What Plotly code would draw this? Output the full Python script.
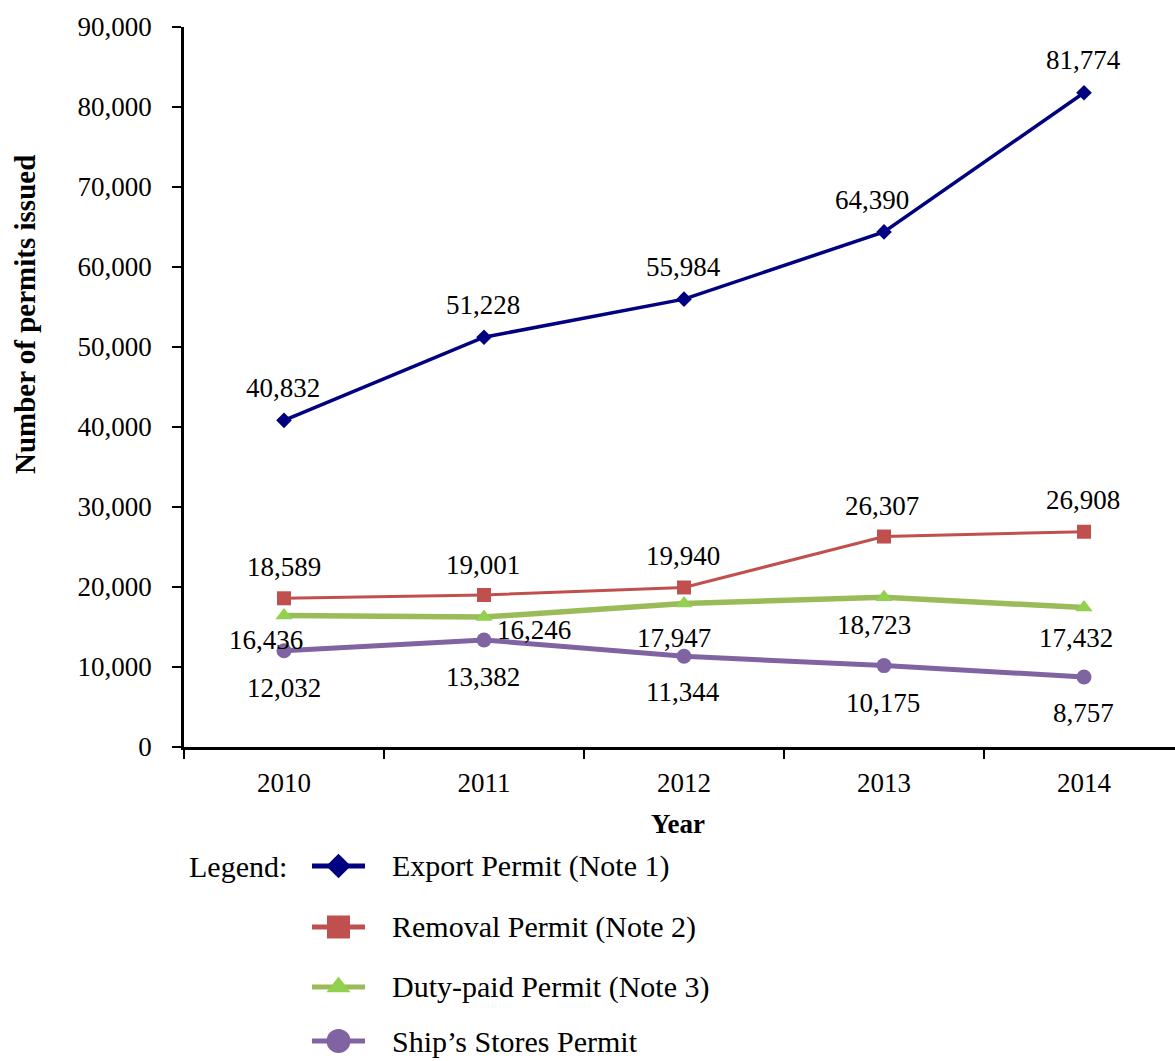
import plotly.graph_objects as go

# ---- data ----
years = ["2010", "2011", "2012", "2013", "2014"]
export_permit = [40832, 51228, 55984, 64390, 81774]
removal_permit = [18589, 19001, 19940, 26307, 26908]
duty_paid_permit = [16436, 16246, 17947, 18723, 17432]
ships_stores_permit = [12032, 13382, 11344, 10175, 8757]

series_names = [
    "Export Permit (Note 1)",
    "Removal Permit (Note 2)",
    "Duty-paid Permit (Note 3)",
    "Ship\u2019s Stores Permit",
]

# ---- styling ----
W, H = 1175, 1061
FONT = "Liberation Serif, Times New Roman, serif"
PLOT_L, PLOT_T, PLOT_B = 184, 27, 747

styles = [
    dict(line=dict(color="#000080", width=3.5), marker=dict(symbol="diamond", size=12, color="#000080"), leg_size=19),
    dict(line=dict(color="#C0504D", width=3), marker=dict(symbol="square", size=14, color="#C0504D"), leg_size=23),
    dict(line=dict(color="#9BBB59", width=5.5), marker=dict(symbol="triangle-up", size=15, color="#92D050"), leg_size=21),
    dict(line=dict(color="#8064A2", width=5), marker=dict(symbol="circle", size=15, color="#8064A2"), leg_size=24),
]

# per-label offsets (px) for the value labels: (xshift, yshift)
label_offsets = [
    [(-1, 32), (-1, 32), (-1, 32), (-12, 32), (-1, 33)],
    [(0, 31), (-1, 30), (-1, 31), (-2, 31), (-1, 32)],
    [(-18, -24), (50, -13), (-10, -35), (-10, -28), (-8, -30)],
    [(0, -37), (-1, -37), (-1, -36), (-1, -37), (-1, -36)],
]

all_series = [export_permit, removal_permit, duty_paid_permit, ships_stores_permit]

fig = go.Figure()

for name, vals, st in zip(series_names, all_series, styles):
    fig.add_trace(go.Scatter(
        x=years, y=vals, mode="lines+markers", name=name,
        line=st["line"], marker=st["marker"], showlegend=False,
        cliponaxis=False, xaxis="x", yaxis="y",
    ))

annotations = []
for vals, offs in zip(all_series, label_offsets):
    for i, (v, (dx, dy)) in enumerate(zip(vals, offs)):
        annotations.append(dict(
            x=i, y=v, xref="x", yref="y", text=f"{v:,}", showarrow=False,
            xshift=dx, yshift=dy, font=dict(family=FONT, size=27, color="black"),
        ))

# ---- legend below the chart, laid out on a pixel-scaled helper axis ----
leg_rows = [866, 927, 987, 1041]
for name, st, ry in zip(series_names, styles, leg_rows):
    fig.add_trace(go.Scatter(
        x=[312, 365], y=[ry, ry], mode="lines", line=dict(color=st["line"]["color"], width=5),
        showlegend=False, hoverinfo="skip", xaxis="x2", yaxis="y2", cliponaxis=False,
    ))
    fig.add_trace(go.Scatter(
        x=[338.5], y=[ry], mode="markers",
        marker=dict(symbol=st["marker"]["symbol"], size=st["leg_size"], color=st["marker"]["color"]),
        showlegend=False, hoverinfo="skip", xaxis="x2", yaxis="y2", cliponaxis=False,
    ))
    annotations.append(dict(
        x=390, y=ry, xref="x2", yref="y2", text=name, showarrow=False,
        xanchor="left", yanchor="middle", font=dict(family=FONT, size=30, color="black"),
    ))

annotations.append(dict(
    x=187, y=866, xref="x2", yref="y2", text="Legend:", showarrow=False,
    xanchor="left", yanchor="middle", font=dict(family=FONT, size=30, color="black"),
))
annotations.append(dict(
    x=678, y=824, xref="x2", yref="y2", text="<b>Year</b>", showarrow=False,
    xanchor="center", yanchor="middle", font=dict(family=FONT, size=27, color="black"),
))

plot_h = H - PLOT_T
y_dom_low = (H - PLOT_B) / plot_h
plot_w = W - PLOT_L

# rotated y-axis title, placed in paper coordinates
annotations.append(dict(
    x=(25 - PLOT_L) / plot_w, y=(H - 315) / plot_h, xref="paper", yref="paper",
    text="<b>Number of permits issued</b>", showarrow=False,
    textangle=-90, xanchor="center", yanchor="middle",
    font=dict(family=FONT, size=29, color="black"),
))

fig.update_layout(
    template="none",
    width=W, height=H,
    margin=dict(l=PLOT_L, r=0, t=PLOT_T, b=0, pad=0, autoexpand=False),
    paper_bgcolor="white", plot_bgcolor="white",
    font=dict(family=FONT, size=27, color="black"),
    annotations=annotations,
    xaxis=dict(
        type="category", range=[-0.5, 4.455], domain=[0, 1], anchor="y", automargin=False,
        showline=True, linecolor="black", linewidth=2.5,
        ticks="outside", tickson="boundaries", ticklen=9, tickcolor="black", tickwidth=1.5,
        showgrid=False, zeroline=False, ticklabelstandoff=10,
        tickfont=dict(family=FONT, size=27, color="black"),
    ),
    yaxis=dict(
        range=[0, 90000], domain=[y_dom_low, 1], anchor="x", automargin=False,
        tickvals=[0, 10000, 20000, 30000, 40000, 50000, 60000, 70000, 80000, 90000],
        tickformat=",", showline=True, linecolor="black", linewidth=2.5,
        ticks="outside", ticklen=9, tickcolor="black", tickwidth=1.5,
        showgrid=False, zeroline=False, ticklabelstandoff=15,
        tickfont=dict(family=FONT, size=27, color="black"),
    ),
    xaxis2=dict(
        range=[PLOT_L, W], domain=[0, 1], anchor="y2", visible=False, fixedrange=True, automargin=False,
    ),
    yaxis2=dict(
        range=[H, PLOT_B], domain=[0, y_dom_low], anchor="x2", visible=False, fixedrange=True, automargin=False,
    ),
)

fig.write_html("out.html")
